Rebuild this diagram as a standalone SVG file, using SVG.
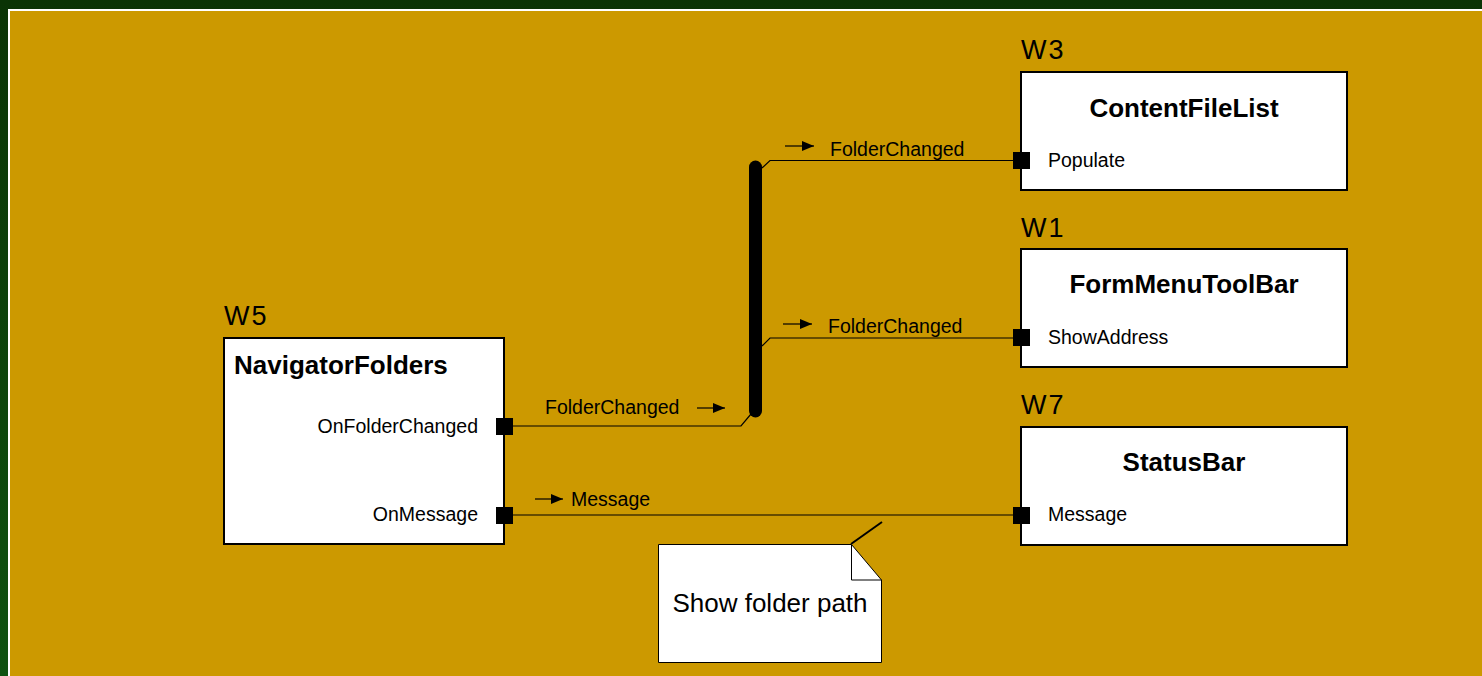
<svg xmlns="http://www.w3.org/2000/svg" width="1482" height="676" viewBox="0 0 1482 676">
  <defs>
    <linearGradient id="frameBg" x1="0" y1="0" x2="0" y2="1">
      <stop offset="0" stop-color="#0a3405"/>
      <stop offset="1" stop-color="#0f5210"/>
    </linearGradient>
    <marker id="flowHead" markerUnits="userSpaceOnUse" markerWidth="13" markerHeight="11" refX="12" refY="5.5" orient="auto">
      <path d="M0,0.5 L12,5.5 L0,10.5 Z" fill="#000"/>
    </marker>
    <style>
      text { font-family: "Liberation Sans", Arial, sans-serif; fill: #000; }
      .wid { font-size: 27px; letter-spacing: 2px; }
      .title { font-size: 26px; font-weight: bold; }
      .port { font-size: 19.5px; }
      .sig { font-size: 19.5px; }
      .note { font-size: 26px; }
      .box { fill: #fff; stroke: #000; stroke-width: 2; }
      .pin { fill: #000; }
      .wire { fill: none; stroke: #000; stroke-width: 1.2; }
      .flow { fill: none; stroke: #000; stroke-width: 1.2; marker-end: url(#flowHead); }
      .bus { stroke: #000; stroke-width: 13; stroke-linecap: round; }
    </style>
  </defs>

  <!-- page frame -->
  <rect x="0" y="0" width="1482" height="676" fill="url(#frameBg)"/>
  <rect x="8" y="9" width="1474" height="667" fill="#fff"/>
  <rect x="10" y="11" width="1472" height="665" fill="#cc9900"/>

  <!-- connectors -->
  <g id="connectors">
    <line class="bus" x1="755.5" y1="167" x2="755.5" y2="411"/>
    <path class="wire" d="M504,426 H741 L751,414"/>
    <path class="wire" d="M762,168 L770,160.5 H1021"/>
    <path class="wire" d="M762,346 L770,338 H1021"/>
    <path class="wire" d="M504,515 H1021"/>

    <line class="flow" x1="697" y1="408" x2="725" y2="408"/>
    <text class="sig" x="545" y="414">FolderChanged</text>

    <line class="flow" x1="785" y1="146" x2="814" y2="146"/>
    <text class="sig" x="830" y="156">FolderChanged</text>

    <line class="flow" x1="783" y1="324" x2="812" y2="324"/>
    <text class="sig" x="828" y="333">FolderChanged</text>

    <line class="flow" x1="535" y1="499" x2="563" y2="499"/>
    <text class="sig" x="571" y="506">Message</text>
  </g>

  <!-- W5 -->
  <g id="navigator-folders">
    <text class="wid" x="224" y="325">W5</text>
    <rect class="box" x="224" y="338" width="280" height="206"/>
    <text class="title" x="234" y="374">NavigatorFolders</text>
    <text class="port" x="478" y="433" text-anchor="end">OnFolderChanged</text>
    <rect class="pin" x="496" y="418" width="17" height="17"/>
    <text class="port" x="478" y="521" text-anchor="end">OnMessage</text>
    <rect class="pin" x="496" y="507" width="17" height="17"/>
  </g>

  <!-- W3 -->
  <g id="content-file-list">
    <text class="wid" x="1021" y="59">W3</text>
    <rect class="box" x="1021" y="72" width="326" height="118"/>
    <text class="title" x="1184" y="117" text-anchor="middle">ContentFileList</text>
    <rect class="pin" x="1013" y="152" width="17" height="17"/>
    <text class="port" x="1048" y="167">Populate</text>
  </g>

  <!-- W1 -->
  <g id="form-menu-toolbar">
    <text class="wid" x="1021" y="237">W1</text>
    <rect class="box" x="1021" y="249" width="326" height="118"/>
    <text class="title" x="1184" y="293" text-anchor="middle">FormMenuToolBar</text>
    <rect class="pin" x="1013" y="329" width="17" height="17"/>
    <text class="port" x="1048" y="344">ShowAddress</text>
  </g>

  <!-- W7 -->
  <g id="status-bar">
    <text class="wid" x="1021" y="414">W7</text>
    <rect class="box" x="1021" y="427" width="326" height="118"/>
    <text class="title" x="1184" y="471" text-anchor="middle">StatusBar</text>
    <rect class="pin" x="1013" y="507" width="17" height="17"/>
    <text class="port" x="1048" y="521">Message</text>
  </g>

  <!-- note -->
  <g id="note">
    <line x1="851" y1="544" x2="882" y2="522" stroke="#000" stroke-width="2"/>
    <path d="M658.5,544.5 H851.5 L881.5,580 V662.5 H658.5 Z" fill="#fff" stroke="#000" stroke-width="1"/>
    <path d="M851.5,544.5 V580 H881.5" fill="none" stroke="#000" stroke-width="1"/>
    <text class="note" x="770" y="612" text-anchor="middle">Show folder path</text>
  </g>
</svg>
